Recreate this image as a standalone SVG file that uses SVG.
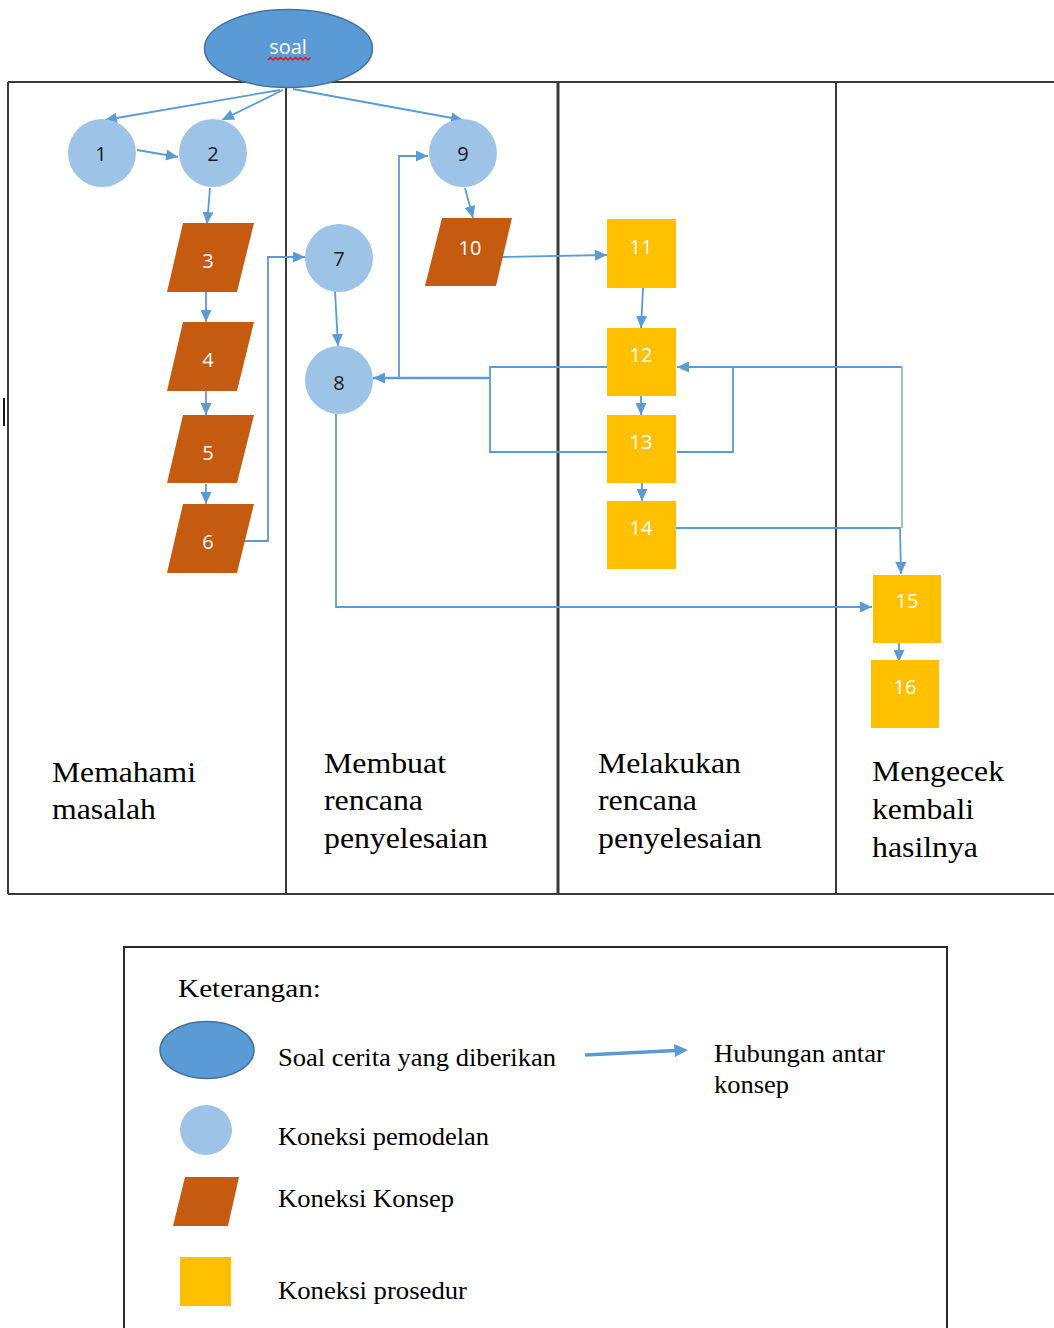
<svg xmlns="http://www.w3.org/2000/svg" width="1054" height="1328" viewBox="0 0 1054 1328">
<style>
.frame{fill:none;stroke:#3a3a3a;stroke-width:2}
.lane{stroke:#3a3a3a;stroke-width:2}
.con{fill:none;stroke:#5B9BD5;stroke-width:1.8}
.pale{fill:none;stroke:#8FBCE6;stroke-width:1.8}
.soal{fill:#5B9BD5;stroke:#41719C;stroke-width:1.5}
.circ{fill:#9DC3E6}
.par{fill:#C55A11}
.sq{fill:#FFC000}
.num{font-family:"Open Sans","Liberation Sans",sans-serif;font-size:20px;text-anchor:middle}
.dark{fill:#1a1a1a}
.wht{fill:#ffffff}
.lbl{font-family:"Liberation Serif","Times New Roman",serif;font-size:30px;fill:#000}
.leg{font-family:"Liberation Serif","Times New Roman",serif;font-size:25px;fill:#000}
</style>
<defs>
<marker id="ah" markerUnits="userSpaceOnUse" markerWidth="13" markerHeight="11" refX="12" refY="5.5" orient="auto">
<path d="M0,0 L12,5.5 L0,11 Z" fill="#5B9BD5"/>
</marker>
</defs>
<rect width="1054" height="1328" fill="#ffffff"/>
<g id="frame">
<line class="frame" x1="8" y1="82" x2="1054" y2="82"/>
<line class="frame" x1="8" y1="894" x2="1054" y2="894"/>
<line class="frame" x1="8" y1="82" x2="8" y2="894"/>
<line class="lane" x1="286" y1="82" x2="286" y2="894"/>
<line class="lane" x1="558" y1="82" x2="558" y2="894" style="stroke-width:3"/>
<line class="lane" x1="836" y1="82" x2="836" y2="894"/>
<line x1="4" y1="398" x2="4" y2="426" stroke="#1a1a1a" stroke-width="2"/>
</g>
<g id="lane-labels">
<text class="lbl" x="52" y="782" textLength="144" lengthAdjust="spacingAndGlyphs">Memahami</text>
<text class="lbl" x="52" y="819" textLength="104" lengthAdjust="spacingAndGlyphs">masalah</text>
<text class="lbl" x="324" y="773" textLength="122" lengthAdjust="spacingAndGlyphs">Membuat</text>
<text class="lbl" x="324" y="810" textLength="99" lengthAdjust="spacingAndGlyphs">rencana</text>
<text class="lbl" x="324" y="848" textLength="164" lengthAdjust="spacingAndGlyphs">penyelesaian</text>
<text class="lbl" x="598" y="773" textLength="143" lengthAdjust="spacingAndGlyphs">Melakukan</text>
<text class="lbl" x="598" y="810" textLength="99" lengthAdjust="spacingAndGlyphs">rencana</text>
<text class="lbl" x="598" y="848" textLength="164" lengthAdjust="spacingAndGlyphs">penyelesaian</text>
<text class="lbl" x="872" y="781" textLength="132" lengthAdjust="spacingAndGlyphs">Mengecek</text>
<text class="lbl" x="872" y="819" textLength="102" lengthAdjust="spacingAndGlyphs">kembali</text>
<text class="lbl" x="872" y="857" textLength="106" lengthAdjust="spacingAndGlyphs">hasilnya</text>
</g>
<g id="connectors">
<line class="con" x1="280" y1="90" x2="105" y2="120" marker-end="url(#ah)"/>
<line class="con" x1="283" y1="90" x2="222" y2="120" marker-end="url(#ah)"/>
<line class="con" x1="293" y1="89" x2="463" y2="120" marker-end="url(#ah)"/>
<line class="con" x1="137" y1="150" x2="178" y2="157" marker-end="url(#ah)"/>
<line class="con" x1="210" y1="188" x2="207" y2="224" marker-end="url(#ah)"/>
<line class="con" x1="206" y1="292" x2="206" y2="322" marker-end="url(#ah)"/>
<line class="con" x1="206" y1="391" x2="206" y2="415" marker-end="url(#ah)"/>
<line class="con" x1="206" y1="484" x2="206" y2="504" marker-end="url(#ah)"/>
<polyline class="con" points="230,541 268,541 268,257 305,257" marker-end="url(#ah)"/>
<line class="con" x1="335" y1="291" x2="338" y2="346" marker-end="url(#ah)"/>
<line class="con" x1="465" y1="188" x2="473" y2="218" marker-end="url(#ah)"/>
<line class="con" x1="498" y1="257" x2="607" y2="255" marker-end="url(#ah)"/>
<line class="con" x1="643" y1="288" x2="641" y2="328" marker-end="url(#ah)"/>
<line class="con" x1="641" y1="396" x2="641" y2="415" marker-end="url(#ah)"/>
<line class="con" x1="642" y1="483" x2="642" y2="501" marker-end="url(#ah)"/>
<line class="con" x1="899" y1="643" x2="899" y2="662" marker-end="url(#ah)"/>
<polyline class="con" points="608,367 490,367 490,452 608,452"/>
<line class="con" x1="490" y1="378" x2="373" y2="378" marker-end="url(#ah)" style="stroke-width:2.4"/>
<polyline class="con" points="399,378 399,156 428,156" marker-end="url(#ah)"/>
<polyline class="con" points="677,452 733,452 733,367"/>
<line class="con" x1="902" y1="367" x2="677" y2="367" marker-end="url(#ah)"/>
<line class="pale" x1="902" y1="367" x2="902" y2="528"/>
<polyline class="con" points="676,528 900,528 901,574" marker-end="url(#ah)"/>
<polyline class="con" points="336,414 336,607 872,607" marker-end="url(#ah)"/>
</g>
<g id="node-soal">
<ellipse class="soal" cx="288.5" cy="48.5" rx="84" ry="39"/>
<text x="288" y="54" style="font-family:'Open Sans','Liberation Sans',sans-serif;font-size:20px;fill:#fff;text-anchor:middle">soal</text>
<path d="M268,60 l2.5,-2.5 2.5,2.5 2.5,-2.5 2.5,2.5 2.5,-2.5 2.5,2.5 2.5,-2.5 2.5,2.5 2.5,-2.5 2.5,2.5 2.5,-2.5 2.5,2.5 2.5,-2.5 2.5,2.5 2.5,-2.5 2.5,2.5 2.5,-2.5" fill="none" stroke="#E01818" stroke-width="1.5"/>
</g>
<g id="node-1"><circle class="circ" cx="102" cy="153" r="34"/><text class="num dark" x="101" y="161">1</text></g>
<g id="node-2"><circle class="circ" cx="213" cy="153" r="34"/><text class="num dark" x="213" y="161">2</text></g>
<g id="node-9"><circle class="circ" cx="463" cy="153" r="34"/><text class="num dark" x="463" y="161">9</text></g>
<g id="node-7"><circle class="circ" cx="339" cy="258" r="34"/><text class="num dark" x="339" y="266">7</text></g>
<g id="node-8"><circle class="circ" cx="339" cy="380" r="34"/><text class="num dark" x="339" y="390">8</text></g>
<g id="node-3"><polygon class="par" points="183,223 254,223 237,292 167,292"/><text class="num wht" x="208" y="268">3</text></g>
<g id="node-4"><polygon class="par" points="183,322 254,322 237,391 167,391"/><text class="num wht" x="208" y="367">4</text></g>
<g id="node-5"><polygon class="par" points="183,415 254,415 237,483 167,483"/><text class="num wht" x="208" y="460">5</text></g>
<g id="node-6"><polygon class="par" points="183,504 254,504 237,573 167,573"/><text class="num wht" x="208" y="549">6</text></g>
<g id="node-10"><polygon class="par" points="442,218 512,218 496,286 425,286"/><text class="num wht" x="470" y="255">10</text></g>
<g id="node-11"><rect class="sq" x="607" y="219" width="69" height="69"/><text class="num wht" x="641" y="254">11</text></g>
<g id="node-12"><rect class="sq" x="607" y="328" width="69" height="68"/><text class="num wht" x="641" y="362">12</text></g>
<g id="node-13"><rect class="sq" x="607" y="415" width="69" height="68"/><text class="num wht" x="641" y="449">13</text></g>
<g id="node-14"><rect class="sq" x="607" y="501" width="69" height="68"/><text class="num wht" x="641" y="535">14</text></g>
<g id="node-15"><rect class="sq" x="873" y="575" width="68" height="68"/><text class="num wht" x="907" y="608">15</text></g>
<g id="node-16"><rect class="sq" x="871" y="660" width="68" height="68"/><text class="num wht" x="905" y="694">16</text></g>
<g id="legend">
<rect x="124" y="947" width="823" height="400" fill="none" stroke="#2a2a2a" stroke-width="2"/>
<text class="leg" x="178" y="997" style="font-size:26px" textLength="143" lengthAdjust="spacingAndGlyphs">Keterangan:</text>
<ellipse class="soal" cx="207" cy="1050" rx="47" ry="28.5"/>
<text class="leg" x="278" y="1066" textLength="278" lengthAdjust="spacingAndGlyphs">Soal cerita yang diberikan</text>
<line x1="585" y1="1055" x2="676" y2="1050.5" stroke="#5B9BD5" stroke-width="3.5"/>
<path d="M674,1044 L688,1050 L675,1057 Z" fill="#5B9BD5"/>
<text class="leg" x="714" y="1062" textLength="171" lengthAdjust="spacingAndGlyphs">Hubungan antar</text>
<text class="leg" x="714" y="1093" textLength="75" lengthAdjust="spacingAndGlyphs">konsep</text>
<ellipse class="circ" cx="206" cy="1130" rx="26" ry="25"/>
<text class="leg" x="278" y="1145" textLength="211" lengthAdjust="spacingAndGlyphs">Koneksi pemodelan</text>
<polygon class="par" points="185,1177 239,1177 228,1226 173,1226"/>
<text class="leg" x="278" y="1207" textLength="176" lengthAdjust="spacingAndGlyphs">Koneksi Konsep</text>
<rect class="sq" x="180" y="1257" width="51" height="49"/>
<text class="leg" x="278" y="1299" textLength="189" lengthAdjust="spacingAndGlyphs">Koneksi prosedur</text>
</g>
</svg>
